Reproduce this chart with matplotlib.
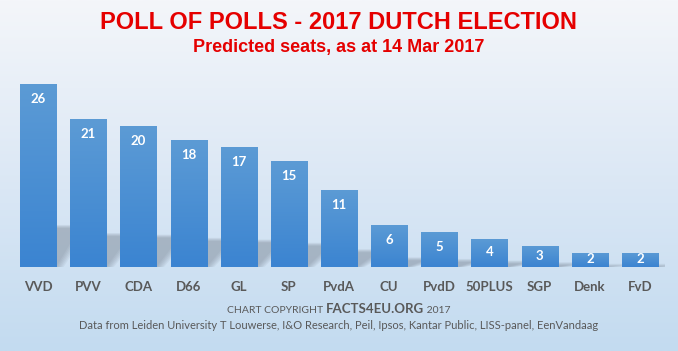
import matplotlib
matplotlib.use('Agg')
import matplotlib.pyplot as plt
import numpy as np
from matplotlib.colors import LinearSegmentedColormap
from matplotlib.patches import Polygon
from matplotlib.offsetbox import TextArea, HPacker, AnnotationBbox

# ── data ───────────────────────────────────────────────
parties = ['VVD', 'PVV', 'CDA', 'D66', 'GL', 'SP', 'PvdA', 'CU',
           'PvdD', '50PLUS', 'SGP', 'Denk', 'FvD']
seats = [26, 21, 20, 18, 17, 15, 11, 6, 5, 4, 3, 2, 2]

TITLE = 'POLL OF POLLS - 2017 DUTCH ELECTION'
SUBTITLE = 'Predicted seats, as at 14 Mar 2017'
SOURCE = ('Data from Leiden University T Louwerse, I&O Research, Peil, Ipsos, '
          'Kantar Public, LISS-panel, EenVandaag')

RED = '#e50000'
GREY = '#595959'

fig = plt.figure(figsize=(6.78, 3.51), dpi=100)

# background gradient
bg = fig.add_axes([0, 0, 1, 1], zorder=0)
bg_cmap = LinearSegmentedColormap.from_list('bg', ['#f4f6fa', '#dce8f5', '#c3dbf0'])
bg.imshow(np.linspace(0, 1, 256).reshape(-1, 1), aspect='auto', cmap=bg_cmap,
          extent=[0, 1, 0, 1])
bg.axis('off')

ax = fig.add_axes([0.0192, 0.2393, 0.9617, 0.547], zorder=1)
ax.patch.set_alpha(0)
x = np.arange(len(parties))
w = 0.72

# soft shadows cast behind bars
for xi, v in zip(x, seats):
    for k in range(6):
        spread = 0.03 * k
        h = v * 0.23
        poly = Polygon([(xi - w / 2 + spread, 0), (xi + w / 2 + spread, 0),
                        (xi + w / 2 + 0.5 + spread, h - spread * 3),
                        (xi - w / 2 + 0.5 + spread, h - spread * 3)],
                       closed=True, facecolor='#66707e', edgecolor='none',
                       alpha=0.08, zorder=1)
        ax.add_patch(poly)

bars = ax.bar(x, seats, w, color='#4a90d3', zorder=2)

bar_cmap = LinearSegmentedColormap.from_list('bar', ['#3b84d1', '#5c9bd5'])
grad = np.linspace(0, 1, 256).reshape(-1, 1)
for b in bars:
    im = ax.imshow(grad, aspect='auto', cmap=bar_cmap, origin='lower',
                   extent=[b.get_x(), b.get_x() + b.get_width(), 0, b.get_height()],
                   zorder=3)
    im.set_clip_path(b)

for xi, v in zip(x, seats):
    ax.text(xi, max(v - 2.13, v / 2 + 0.1), str(v), ha='center', va='center',
            color='white', fontweight='bold', fontsize=9.5, family='Lato', zorder=4)

ax.set_xlim(-0.5, len(parties) - 0.5)
ax.set_ylim(0, 27.27)
ax.set_xticks(x)
ax.set_xticklabels(parties, fontsize=9.5, fontweight='bold', color=GREY, family='Lato')
ax.tick_params(axis='x', length=0, pad=10)
ax.set_yticks([])
for s in ax.spines.values():
    s.set_visible(False)

# titles
fig.text(0.5, 0.937, TITLE, ha='center', va='center', color=RED,
         fontsize=17, fontweight='bold', family='Liberation Sans')
fig.text(0.5, 0.866, SUBTITLE, ha='center', va='center', color=RED,
         fontsize=13, fontweight='bold', family='Liberation Sans')

# footer
parts = [TextArea('CHART COPYRIGHT ', textprops=dict(color=GREY, fontsize=7.5, family='Lato')),
         TextArea('FACTS4EU.ORG', textprops=dict(color=GREY, fontsize=9.5, fontweight='bold', family='Lato')),
         TextArea(' 2017', textprops=dict(color=GREY, fontsize=7.5, family='Lato'))]
box = HPacker(children=parts, align='baseline', pad=0, sep=0)
ab = AnnotationBbox(box, (0.5, 0.121), xycoords='figure fraction',
                    box_alignment=(0.5, 0.5), frameon=False, zorder=5)
fig.add_artist(ab)
fig.text(0.5, 0.074, SOURCE, ha='center', va='center', color=GREY,
         fontsize=8, family='Lato')

fig.savefig('out.png', dpi=100)
